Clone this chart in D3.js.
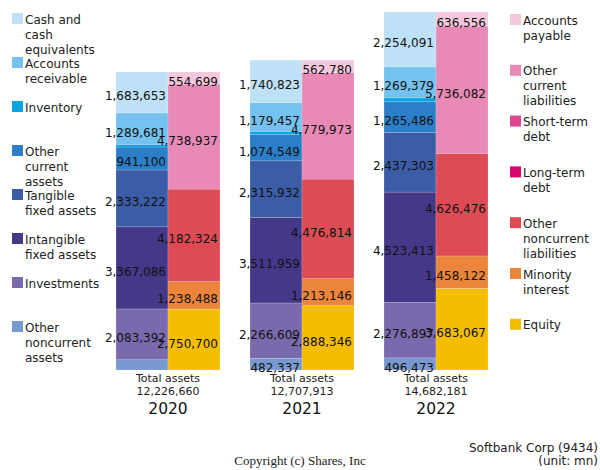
<!DOCTYPE html>
<html><head><meta charset="utf-8">
<script src="https://cdn.jsdelivr.net/npm/d3@7"></script>
<style>body{margin:0;background:#fff}svg{display:block}text{font-family:"DejaVu Sans",sans-serif}</style>
</head><body><svg id="c" width="600" height="470"></svg>
<script>
const years = ["2020", "2021", "2022"];
const totalAssets = [12226660, 12707913, 14682181];
// assets (values)
const cash = [1683653, 1740823, 2254091];
const receivables = [1289681, 1179457, 1269379];
const inventory = [108000, 136247, 159139];
const otherCurrentAssets = [941100, 1074549, 1265486];
const tangible = [2333222, 2315932, 2437303];
const intangible = [3367086, 3511959, 4523413];
const investments = [2083392, 2266609, 2276897];
const otherNoncurrentAssets = [420526, 482337, 496473];
// liabilities & equity
const payables = [554699, 562780, 636556];
const otherCurrentLiab = [4738937, 4779973, 5736082];
const shortTermDebt = [0, 0, 0];
const longTermDebt = [0, 0, 0];
const otherNoncurrentLiab = [4182324, 4476814, 4626476];
const minority = [1238488, 1213146, 1458122];
const equity = [2750700, 2888346, 3683067];

const assetLabels = ["Cash and|cash|equivalents", "Accounts|receivable", "Inventory", "Other|current|assets", "Tangible|fixed assets", "Intangible|fixed assets", "Investments", "Other|noncurrent|assets"];
const liabLabels = ["Accounts|payable", "Other|current|liabilities", "Short-term|debt", "Long-term|debt", "Other|noncurrent|liabilities", "Minority|interest", "Equity"];
const assetColors = ["#bee1f7", "#74c2ef", "#0ba4e3", "#2b7fc8", "#3b5ca6", "#463889", "#7a69ac", "#7898d0"];
const liabColors = ["#f5c8de", "#e98ab6", "#dc4790", "#d6076f", "#dd4c55", "#eb853c", "#f5bd00"];

// top-to-bottom order
const assetData = [cash, receivables, inventory, otherCurrentAssets, tangible, intangible, investments, otherNoncurrentAssets];
const liabData = [payables, otherCurrentLiab, shortTermDebt, longTermDebt, otherNoncurrentLiab, minority, equity];

const svg = d3.select("#c");
const yBottom = 370, yTop = 12;
const y = d3.scaleLinear().domain([0, d3.max(totalAssets)]).range([yBottom, yTop]);
const x = d3.scaleBand().domain(years).range([116, 488]).paddingInner(30/134).paddingOuter(0);
const x1 = d3.scaleBand().domain(["a", "l"]).range([0, x.bandwidth()]);
const fmt = d3.format(",");

const marks = svg.append("g"), labels = svg.append("g");

years.forEach((yr, i) => {
  const gx = x(yr);
  function stack(data, colors, side, scaleFactor) {
    let cum = 0;
    const segs = [];
    // bottom to top
    for (let k = data.length - 1; k >= 0; k--) {
      const v = data[k][i] * scaleFactor;
      segs.push({k, v: data[k][i], y0: cum, y1: cum + v});
      cum += v;
    }
    segs.forEach(s => {
      if (s.v <= 0) return;
      const top = y(s.y1), bot = y(s.y0);
      marks.append("rect").attr("x", gx + x1(side)).attr("width", x1.bandwidth())
        .attr("y", top).attr("height", bot - top).attr("fill", colors[s.k])
        .attr("stroke", "#fff").attr("stroke-width", 0.5).attr("stroke-opacity", 0.35);
      if (bot - top >= 11) {
        labels.append("text").attr("x", gx + x1(side) + x1.bandwidth() - 2)
          .attr("y", (top + bot) / 2 + 8).attr("text-anchor", "end")
          .attr("font-size", 12).attr("fill", "#111").text(fmt(s.v));
      }
    });
  }
  stack(assetData, assetColors, "a", 1);
  const lsum = d3.sum(liabData, d => d[i]);
  stack(liabData, liabColors, "l", totalAssets[i] / lsum);
  const cx = gx + x.bandwidth() / 2;
  svg.append("text").attr("x", cx).attr("y", 382).attr("text-anchor", "middle").attr("font-size", 11).attr("fill", "#222").text("Total assets");
  svg.append("text").attr("x", cx).attr("y", 395).attr("text-anchor", "middle").attr("font-size", 11).attr("fill", "#222").text(fmt(totalAssets[i]));
  svg.append("text").attr("x", cx).attr("y", 413.5).attr("text-anchor", "middle").attr("font-size", 15.5).attr("fill", "#111").text(yr);
});

function legend(names, colors, x0, top0, step) {
  names.forEach((n, i) => {
    const t = top0 + step * i;
    svg.append("rect").attr("x", x0).attr("y", t).attr("width", 11).attr("height", 11).attr("fill", colors[i]);
    const tx = svg.append("text").attr("x", x0 + 13).attr("y", t + 10.5).attr("font-size", 12).attr("fill", "#222");
    n.split("|").forEach((ln, j) => tx.append("tspan").attr("x", x0 + 13).attr("dy", j ? 15 : 0).text(ln));
  });
}
legend(assetLabels, assetColors, 12, 13, 44);
legend(liabLabels, liabColors, 510, 14, 50.8);

svg.append("text").attr("x", 598).attr("y", 451.5).attr("text-anchor", "end").attr("font-size", 12).attr("fill", "#222").text("Softbank Corp (9434)");
svg.append("text").attr("x", 598).attr("y", 465).attr("text-anchor", "end").attr("font-size", 12).attr("fill", "#222").text("(unit: mn)");
svg.append("text").attr("x", 300).attr("y", 465).attr("text-anchor", "middle").attr("font-size", 13).attr("fill", "#222")
  .style("font-family", "'Liberation Serif','Times New Roman',serif").text("Copyright (c) Shares, Inc");
</script></body></html>
